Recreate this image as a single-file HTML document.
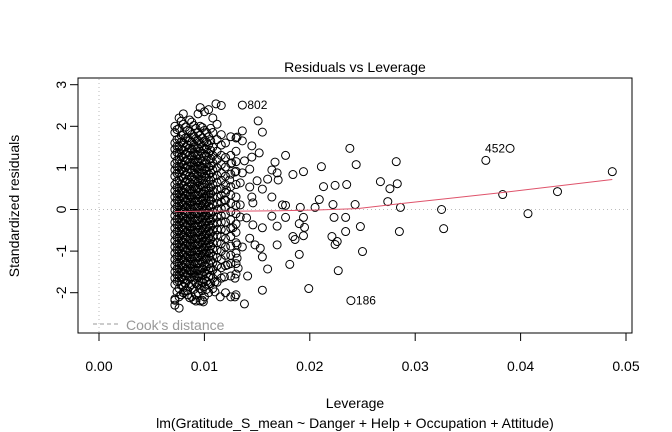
<!DOCTYPE html>
<html><head><meta charset="utf-8"><style>
body{margin:0;background:#fff;}
svg{display:block;font-family:"Liberation Sans",Arial,sans-serif;}
</style></head><body>
<svg id="chart" width="672" height="432" viewBox="0 0 672 432" xmlns="http://www.w3.org/2000/svg">
<rect x="0" y="0" width="672" height="432" fill="#fff"/>
<text x="355" y="72" text-anchor="middle" font-size="14">Residuals vs Leverage</text>
<text x="355" y="408" text-anchor="middle" font-size="14">Leverage</text>
<text x="355" y="428" text-anchor="middle" font-size="14">lm(Gratitude_S_mean ~ Danger + Help + Occupation + Attitude)</text>
<text transform="translate(19,206) rotate(-90)" text-anchor="middle" font-size="14">Standardized residuals</text>
<g id="axes"></g>
<g id="marks"></g>
<rect x="78" y="78" width="554" height="255" fill="none" stroke="#000" stroke-width="1"/>
<line x1="93" y1="324" x2="121" y2="324" stroke="#999" stroke-dasharray="4,3"/>
<text x="126" y="330" font-size="14" fill="#999">Cook's distance</text>
</svg>
<script>
const xTicks=[0,0.01,0.02,0.03,0.04,0.05];
const xTickLabels=["0.00","0.01","0.02","0.03","0.04","0.05"];
const yTicks=[-2,-1,0,1,2,3];
const yTickLabels=["-2","-1","0","1","2","3"];
const colLev=[0.0072,0.0076,0.0080,0.0084,0.0088,0.0092,0.0096,0.0100,0.0104,0.0108,0.0112,0.0116,0.0120,0.0125,0.0130,
0.0074,0.0078,0.0082,0.0086,0.0090,0.0094,0.0098,0.0102,0.0106];
const colRes=[
[2.0,1.85,1.6,1.45,1.3,1.1,0.95,0.8,0.6,0.45,0.3,0.15,0,-0.15,-0.3,-0.45,-0.6,-0.75,-0.9,-1.05,-1.2,-1.35,-1.5,-1.65,-1.8,-2.15,-2.3],
[2.2,1.95,1.7,1.52,1.35,1.2,1.02,0.88,0.7,0.52,0.38,0.22,0.08,-0.08,-0.22,-0.38,-0.52,-0.68,-0.82,-0.98,-1.12,-1.28,-1.42,-1.58,-1.72,-1.9,-2.1],
[2.3,2.05,1.8,1.6,1.42,1.25,1.08,0.92,0.75,0.58,0.42,0.28,0.12,-0.02,-0.18,-0.32,-0.48,-0.62,-0.78,-0.92,-1.08,-1.22,-1.38,-1.52,-1.68,-1.85,-2.0],
[1.9,1.72,1.55,1.38,1.2,1.05,0.9,0.72,0.55,0.4,0.25,0.1,-0.05,-0.2,-0.35,-0.5,-0.65,-0.8,-0.95,-1.1,-1.25,-1.4,-1.55,-1.7,-1.95,-2.05],
[2.1,1.8,1.62,1.45,1.28,1.12,0.95,0.78,0.62,0.48,0.32,0.18,0.02,-0.12,-0.28,-0.42,-0.58,-0.72,-0.88,-1.02,-1.18,-1.32,-1.48,-1.62,-1.8,-2.1],
[1.95,1.7,1.5,1.32,1.15,1.0,0.85,0.68,0.5,0.35,0.2,0.05,-0.1,-0.25,-0.4,-0.55,-0.7,-0.85,-1.0,-1.15,-1.3,-1.45,-1.6,-1.78,-2.05,-2.2],
[2.45,2.0,1.78,1.58,1.4,1.22,1.05,0.9,0.72,0.58,0.42,0.28,0.12,-0.02,-0.18,-0.32,-0.48,-0.62,-0.78,-0.92,-1.08,-1.22,-1.4,-1.55,-1.72,-1.9,-2.2],
[2.35,1.9,1.65,1.45,1.28,1.1,0.95,0.8,0.62,0.45,0.3,0.15,0.0,-0.15,-0.3,-0.45,-0.6,-0.75,-0.9,-1.05,-1.2,-1.35,-1.5,-1.68,-1.85,-2.1],
[2.4,1.75,1.55,1.35,1.2,1.02,0.85,0.7,0.52,0.38,0.22,0.08,-0.08,-0.22,-0.38,-0.52,-0.68,-0.82,-0.98,-1.12,-1.3,-1.45,-1.62,-1.8,-2.0],
[2.2,1.85,1.5,1.3,1.12,0.95,0.78,0.6,0.45,0.3,0.12,-0.05,-0.2,-0.35,-0.5,-0.65,-0.8,-0.95,-1.12,-1.28,-1.45,-1.65,-1.9],
[2.05,1.68,1.4,1.2,1.0,0.82,0.65,0.48,0.3,0.15,0.0,-0.18,-0.32,-0.48,-0.62,-0.8,-0.98,-1.15,-1.35,-1.55,-1.75],
[2.5,1.8,1.55,1.3,1.08,0.88,0.7,0.5,0.35,0.18,0.02,-0.15,-0.3,-0.48,-0.65,-0.82,-1.0,-1.2,-1.4,-1.65],
[1.6,1.25,1.02,0.8,0.6,0.4,0.22,0.05,-0.12,-0.3,-0.5,-0.7,-0.9,-1.1,-1.35,-2.0],
[1.75,1.3,1.1,0.85,0.55,0.35,0.15,-0.05,-0.25,-0.45,-0.65,-0.88,-1.1,-1.3,-1.6,-2.1],
[1.72,1.4,1.15,0.92,0.6,0.3,0.1,-0.1,-0.35,-0.55,-0.8,-1.05,-1.3,-1.55,-2.05],
[1.92,1.68,1.52,1.37,1.18,1.03,0.87,0.68,0.53,0.37,0.23,0.07,-0.07,-0.23,-0.37,-0.53,-0.67,-0.83,-0.97,-1.13,-1.27,-1.43,-1.57,-1.73,-1.98],
[2.12,1.78,1.62,1.43,1.27,1.1,0.95,0.78,0.6,0.45,0.3,0.15,0.0,-0.15,-0.3,-0.45,-0.6,-0.75,-0.9,-1.05,-1.2,-1.35,-1.5,-1.65,-1.8,-2.05],
[1.98,1.72,1.5,1.33,1.17,1.0,0.83,0.67,0.5,0.35,0.2,0.05,-0.1,-0.25,-0.4,-0.55,-0.7,-0.85,-1.0,-1.15,-1.3,-1.45,-1.6,-1.77,-1.95],
[2.15,1.88,1.65,1.47,1.3,1.13,0.97,0.8,0.65,0.48,0.32,0.17,0.03,-0.12,-0.27,-0.42,-0.57,-0.72,-0.87,-1.02,-1.17,-1.32,-1.47,-1.63,-1.85,-2.12],
[2.02,1.75,1.55,1.37,1.2,1.05,0.88,0.72,0.55,0.4,0.25,0.1,-0.05,-0.2,-0.35,-0.5,-0.65,-0.8,-0.95,-1.1,-1.25,-1.4,-1.55,-1.7,-1.92,-2.17],
[2.3,1.85,1.65,1.47,1.3,1.13,0.97,0.8,0.65,0.5,0.35,0.2,0.05,-0.1,-0.25,-0.4,-0.55,-0.7,-0.85,-1.0,-1.15,-1.3,-1.47,-1.63,-1.82,-2.0],
[1.97,1.72,1.52,1.35,1.17,1.02,0.87,0.7,0.55,0.38,0.22,0.07,-0.08,-0.23,-0.38,-0.53,-0.68,-0.83,-0.98,-1.13,-1.28,-1.43,-1.58,-1.75,-1.95,-2.18],
[1.85,1.62,1.45,1.28,1.1,0.93,0.77,0.62,0.45,0.3,0.15,0.0,-0.15,-0.3,-0.45,-0.6,-0.75,-0.9,-1.05,-1.2,-1.38,-1.55,-1.72,-1.92],
[1.95,1.65,1.42,1.22,1.05,0.88,0.7,0.53,0.38,0.22,0.05,-0.12,-0.27,-0.42,-0.57,-0.72,-0.88,-1.05,-1.22,-1.4,-1.58,-1.78]
];
const sparseLev=[0.0111,0.0136,0.0151,0.0155,0.0136,0.0131,0.0136,0.0145,0.0152,0.0138,0.0145,0.0126,0.0167,0.0164,0.0169,0.0160,0.0170,0.0150,0.0143,0.0155,0.0129,0.0136,0.0143,0.0134,0.0164,0.0145,0.0146,0.0134,0.0174,0.0124,0.0121,0.0119,0.0164,0.0169,0.0155,0.0146,0.0140,0.0134,0.0127,0.0143,0.0136,0.0148,0.0131,0.0153,0.0169,0.0155,0.0131,0.0132,0.0122,0.0160,0.0141,0.0129,0.0119,0.0110,0.0155,0.0138,0.0129,0.0115,0.0110,0.0099,0.0072,0.0076,
0.0238,0.0244,0.0282,0.0267,0.0276,0.0283,0.0274,0.0286,0.0243,0.0325,0.0327,0.0285,0.0250,0.0227,0.0199,0.0239,0.0367,0.0390,0.0383,0.0407,0.0435,0.0487,0.0248,0.0234,0.0234,0.0223,0.0222,0.0224,0.0235,0.0213,0.0211,0.0209,0.0205,0.0194,0.0184,0.0177,0.0191,0.0194,0.0190,0.0195,0.0194,0.0184,0.0186,0.0190,0.0181,0.0221,0.0226,0.0224,0.0177,0.0177];
const sparseRes=[2.54,2.51,2.13,1.86,1.89,1.74,1.65,1.53,1.36,1.17,1.26,1.12,1.14,0.95,0.88,0.73,0.71,0.69,0.54,0.49,0.90,0.88,0.97,0.64,0.30,0.30,0.16,0.11,0.11,0.71,0.47,0.23,-0.16,-0.40,-0.44,-0.37,-0.20,-0.18,-0.44,-0.69,-0.90,-0.85,-0.85,-0.93,-0.85,-1.14,-1.17,-1.41,-1.33,-1.43,-1.60,-1.65,-1.62,-1.74,-1.94,-2.27,-2.10,-2.10,-1.98,-2.22,-2.18,-2.37,
1.47,1.08,1.15,0.67,0.50,0.62,0.19,0.05,0.12,0.0,-0.46,-0.53,-1.01,-1.47,-1.90,-2.19,1.18,1.47,0.36,-0.10,0.43,0.91,-0.41,-0.53,-0.19,-0.19,0.12,0.58,0.60,0.55,1.03,0.24,0.05,0.91,0.84,1.30,0.05,-0.19,-0.34,-0.43,-0.63,-0.65,-0.72,-1.08,-1.32,-0.65,-0.77,-0.84,0.10,-0.19];
const labelNames=["802","452","186"];
const labelLev=[0.0136,0.0390,0.0239];
const labelRes=[2.51,1.47,-2.19];
const smoothLev=[0.0072,0.0100,0.0130,0.0172,0.0210,0.0245,0.0286,0.0330,0.0383,0.0430,0.0487];
const smoothRes=[-0.05,-0.04,-0.04,-0.03,-0.01,0.02,0.14,0.26,0.41,0.55,0.72];

const xS=v=>99+v*10540;
const yS=v=>209.5-v*41.6;
const NS="http://www.w3.org/2000/svg";
const axes=document.getElementById('axes');
const marks=document.getElementById('marks');
function mk(tag,attrs,parent){const e=document.createElementNS(NS,tag);for(const k in attrs)e.setAttribute(k,attrs[k]);parent.appendChild(e);return e;}

let l=mk('line',{x1:79,x2:631,y1:yS(0),y2:yS(0),stroke:'#bbb','stroke-dasharray':'1,3'},axes);


l=mk('line',{x1:xS(0),x2:xS(0),y1:79,y2:332,stroke:'#bbb','stroke-dasharray':'1,3'},axes);



xTicks.forEach((t,i)=>{
  const tk=mk('line',{x1:xS(t),x2:xS(t),y1:333,y2:341,stroke:'#000'},axes);
  
  
  const tx=mk('text',{x:xS(t),y:371,'text-anchor':'middle','font-size':14},axes);
  tx.textContent=xTickLabels[i];
  
  
});
yTicks.forEach((t,i)=>{
  const tk=mk('line',{x1:70,x2:78,y1:yS(t),y2:yS(t),stroke:'#000'},axes);
  
  
  const tx=mk('text',{transform:`translate(${66},${yS(t)}) rotate(-90)`,'text-anchor':'middle','font-size':14},axes);
  tx.textContent=yTickLabels[i];
  
  
});

function pt(lv,rs){
  const c=mk('circle',{cx:xS(lv),cy:yS(rs),r:4,fill:'none',stroke:'#000','stroke-width':1},marks);
  
  
}
colLev.forEach((lv,i)=>colRes[i].forEach(r=>pt(lv,r)));
sparseLev.forEach((lv,i)=>pt(lv,sparseRes[i]));

const sm=mk('polyline',{points:smoothLev.map((v,i)=>xS(v)+','+yS(smoothRes[i])).join(' '),fill:'none',stroke:'#df536b','stroke-width':1},marks);



labelNames.forEach((n,i)=>{
  const right=(n==="452");
  const t=mk('text',{x:xS(labelLev[i])+(right?-5:5),y:yS(labelRes[i])+4,'text-anchor':right?'end':'start','font-size':12},marks);
  t.textContent=n;
  
  
});
</script>
</body></html>
